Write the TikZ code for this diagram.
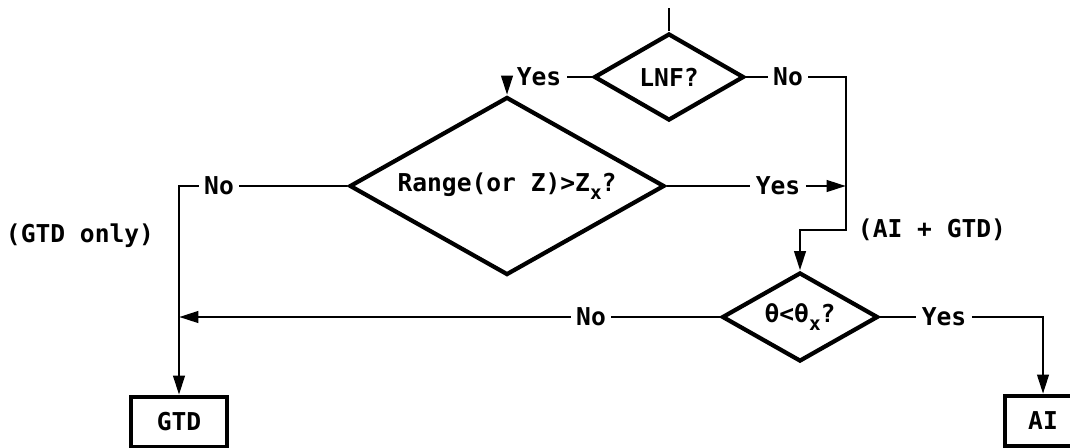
\documentclass[tikz,border=0pt]{standalone}
\usepackage{fontspec}
\setmainfont{DejaVu Sans Mono}
\usetikzlibrary{shapes.geometric, arrows.meta, positioning, calc}

\newcommand{\subx}{\raisebox{-0.55ex}{\fontsize{11}{12}\selectfont x}}

\tikzset{
	decision/.style={diamond, draw, line width=2.4pt, inner sep=0pt, shape aspect=1.8, font=\bfseries\fontsize{14}{16}\selectfont},
	outcome/.style={rectangle, draw, line width=2.4pt, minimum width=1.92cm, minimum height=1.0cm, font=\bfseries\fontsize{14}{16}\selectfont},
	lbl/.style={inner sep=3pt, font=\bfseries\fontsize{14}{16}\selectfont},
	flow/.style={line width=1.6pt},
	flowarrow/.style={flow, -{Triangle[length=11pt,width=6.5pt]}},
}

\begin{document}
\begin{tikzpicture}[x=0.02cm, y=-0.02cm]
	\clip (0,0) rectangle (1070,447);

	% Decision nodes
	\node[decision, minimum width=3cm, minimum height=1.74cm] (lnf) at (669,77) {LNF?};
	\node[decision, minimum width=6.3cm, minimum height=3.56cm] (range) at (507,186) {Range(or Z)>Z\subx?};
	\node[decision, minimum width=3.12cm, minimum height=1.78cm] (theta) at (800,317) {θ<θ\subx?};

	% Outcome boxes
	\node[outcome] (gtd) at (179,422) {GTD};
	\node[outcome, minimum width=1.52cm] (ai) at (1043,421) {AI};

	% Branch labels
	\node[lbl] (lnfyes) at (539,77) {Yes};
	\node[lbl] (lnfno) at (788,77) {No};
	\node[lbl] (rangeyes) at (778,186) {Yes};
	\node[lbl] (rangeno) at (219,186) {No};
	\node[lbl] (thetano) at (591,317) {No};
	\node[lbl] (thetayes) at (944,317) {Yes};

	% Path notes
	\node[lbl] (gtdonly) at (80,236) {(GTD only)};
	\node[lbl] (aigtd) at (932,230) {(AI + GTD)};

	% Junctions
	\coordinate (entry) at (lnf.north |- 0,8);
	\coordinate (bendR) at (846,230);
	\coordinate (joinR) at (bendR |- range.east);
	\coordinate (joinL) at (gtd.north |- theta.west);

	% Edges from LNF?
	\draw[flow] (entry) -- (lnf.north);
	\draw[flow] (lnf.west) -- (lnfyes.east);
	\draw[flowarrow] (lnfyes.west) -| (range.north);
	\draw[flow] (lnf.east) -- (lnfno.west);
	\draw[flowarrow] (lnfno.east) -| (bendR) -| (theta.north);

	% Edges from Range
	\draw[flow] (range.east) -- (rangeyes.west);
	\draw[flowarrow] (rangeyes.east) -- (joinR);
	\draw[flow] (range.west) -- (rangeno.east);
	\draw[flowarrow] (rangeno.west) -| (gtd.north);

	% Edges from theta
	\draw[flow] (theta.west) -- (thetano.east);
	\draw[flowarrow] (thetano.west) -- (joinL);
	\draw[flow] (theta.east) -- (thetayes.west);
	\draw[flowarrow] (thetayes.east) -| (ai.north);
\end{tikzpicture}
\end{document}
